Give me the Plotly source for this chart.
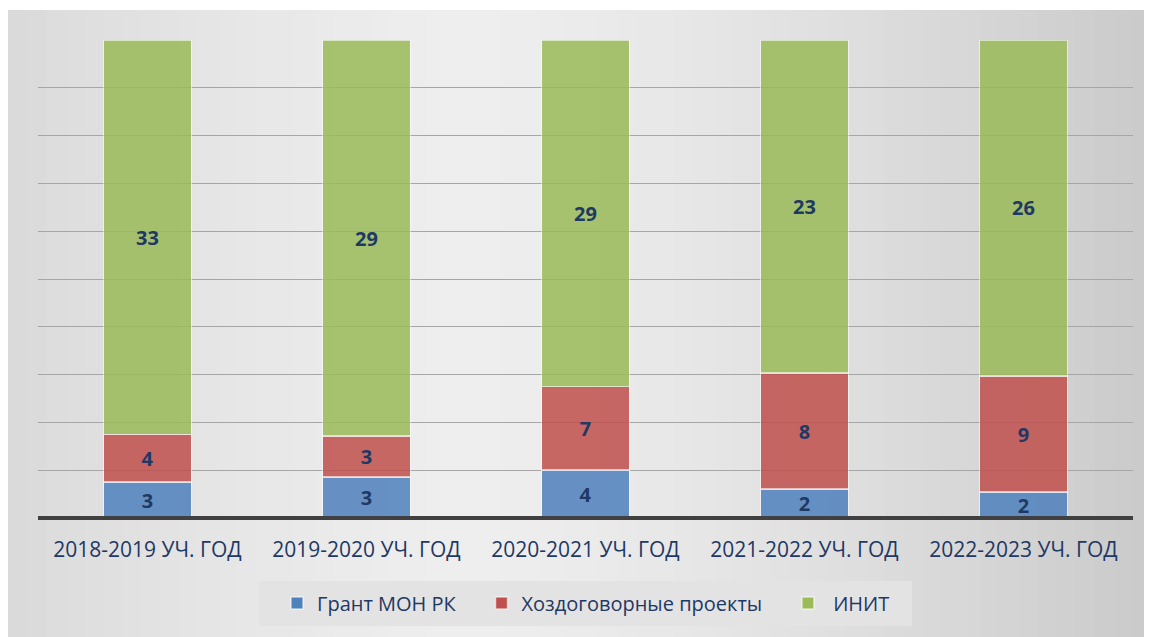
import plotly.graph_objects as go

years = ["2018-2019 УЧ. ГОД", "2019-2020 УЧ. ГОД", "2020-2021 УЧ. ГОД",
         "2021-2022 УЧ. ГОД", "2022-2023 УЧ. ГОД"]
grant = [3, 3, 4, 2, 2]
hozdog = [4, 3, 7, 8, 9]
init = [33, 29, 29, 23, 26]

pad = "\u00a0" * 4
series = [
    ("Грант МОН РК" + pad, grant, "#4f81bd"),
    ("Хоздоговорные проекты" + pad, hozdog, "#c0504d"),
    ("\u00a0ИНИТ" + pad, init, "#9bbb59"),
]

W, H = 1144, 629
L, R, T, B = 30, 19, 32, 119
pw, ph = W - L - R, H - T - B

fig = go.Figure()
for name, vals, col in series:
    fig.add_trace(go.Bar(
        x=years, y=vals, name=name, text=vals,
        textposition="inside", insidetextanchor="middle", textangle=0,
        textfont=dict(family="Open Sans", size=20, color="#1f3864", weight="bold"),
        marker=dict(color=col, opacity=0.85,
                    line=dict(color="rgba(255,255,255,0.6)", width=1.5)),
        hoverinfo="skip",
    ))

# background: soft horizontal gradient built from thin stripes
shapes = []
n = 60
x0p, x1p = -L / pw, 1 + R / pw
for i in range(n):
    f = (i + 0.5) / n
    d = abs(f - 0.4) / 0.6
    g = int(round(238 - 36 * d ** 1.4))
    shapes.append(dict(type="rect", xref="paper", yref="paper", layer="below",
                       x0=x0p + (x1p - x0p) * i / n, x1=x0p + (x1p - x0p) * (i + 1) / n + 0.002,
                       y0=-B / ph, y1=1 + (T - 2) / ph,
                       fillcolor=f"rgb({g},{g},{g})", line=dict(width=0)))
# legend panel
shapes.append(dict(type="rect", xref="paper", yref="paper", layer="below",
                   x0=(251 - L) / pw, x1=(904 - L) / pw, y0=-108 / ph, y1=-63 / ph,
                   fillcolor="#e3e3e3", line=dict(width=0)))
# baseline
shapes.append(dict(type="line", xref="paper", yref="paper", layer="above",
                   x0=0, x1=1, y0=0, y1=0, line=dict(color="#404040", width=4)))

fig.update_layout(
    width=W, height=H,
    margin=dict(l=L, r=R, t=T, b=B),
    barmode="stack", barnorm="percent", bargap=0.6,
    paper_bgcolor="white", plot_bgcolor="rgba(0,0,0,0)",
    shapes=shapes,
    uniformtext=dict(minsize=19, mode="show"),
    font=dict(family="Open Sans", color="#1f3864"),
    legend=dict(orientation="h", x=0.5 + 11 / pw, xanchor="center", y=-85 / ph, yanchor="middle",
                bgcolor="rgba(0,0,0,0)", borderwidth=0, traceorder="normal",
                font=dict(size=20, color="#1f3864")),
    showlegend=True,
)
fig.update_xaxes(showgrid=False, showline=False, ticks="outside", ticklen=13,
                 tickcolor="rgba(0,0,0,0)", tickfont=dict(size=21, color="#1f3864"))
fig.update_yaxes(range=[0, 100], dtick=10, showgrid=True, gridcolor="#a6a6a6",
                 gridwidth=1, showticklabels=False, zeroline=False, showline=False)

fig.write_html("out.html")
